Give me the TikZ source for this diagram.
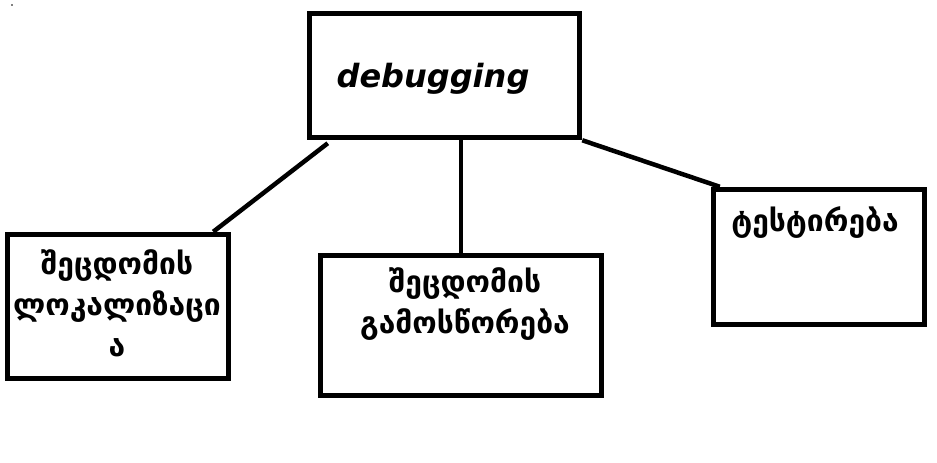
\documentclass[tikz,border=0pt]{standalone}
\usepackage{fontspec}
\setmainfont{DejaVu Sans}
\usetikzlibrary{positioning,calc}
\newfontfamily\geofont{DejaVu Sans}

\begin{document}
\begin{tikzpicture}[x=1pt, y=-1pt,
				box/.style={draw=black, line width=5.5pt, fill=white, inner sep=0pt},
				link/.style={draw=black, line width=4.5pt},
				geo/.style={font=\geofont\bfseries\fontsize{30}{41}\selectfont, align=center, inner sep=0pt}]
				% Rahmen
				\useasboundingbox (0,0) rectangle (937,463);
				\fill (12,5) circle (0.8);
				% Kaesten
				\node[box, minimum width=270pt, minimum height=124pt] (debug) at (444.5,75.5) {};
				\node[box, minimum width=221pt, minimum height=144pt] (locate) at (118,306.5) {};
				\node[box, minimum width=281pt, minimum height=140pt] (repair) at (461,325.5) {};
				\node[box, minimum width=211pt, minimum height=135pt] (testing) at (819,257) {};
				% Verbindungen
				\draw[link] ([xshift=21pt,yshift=-3pt]debug.south west) -- ([xshift=-18pt]locate.north east);
				\draw[link] (debug.south -| repair.north) -- (repair.north);
				\draw[link] (debug.south east) -- ([xshift=9pt]testing.north west);
				% Beschriftung
				\node[anchor=base, font=\bfseries\itshape\fontsize{32}{38}\selectfont] (debugtext) at (433,87) {debugging};
				\node[geo] (locatetext) at (117,303) {შეცდომის\\ლოკალიზაცი\\ა};
				\node[geo] (repairtext) at (465,304) {შეცდომის\\გამოსწორება};
				\node[geo] (testingtext) at (815,223) {ტესტირება};
			\end{tikzpicture}
\end{document}
